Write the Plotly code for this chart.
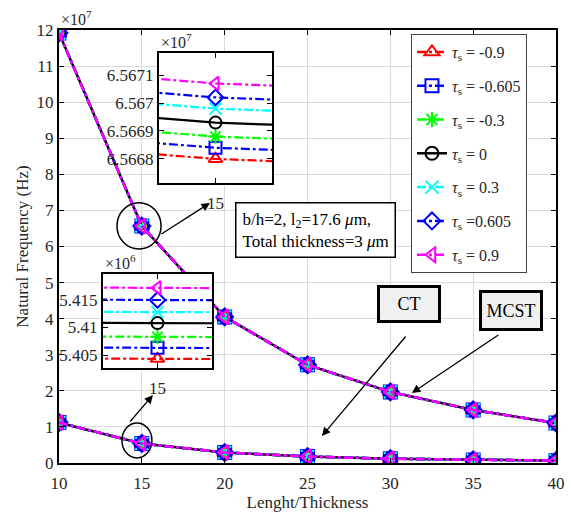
import plotly.graph_objects as go

# ---- data -------------------------------------------------------------
ratio = [10, 15, 20, 25, 30, 35, 40]
tau_values = ["-0.9", "-0.605", "-0.3", "0", "0.3", "0.605", "0.9"]
tau_text = ["= -0.9", "= -0.605", "= -0.3", "= 0", "= 0.3", "=0.605", "= 0.9"]

# natural frequency (Hz), modified couple stress theory
mcst_m090 = [1.19170e8, 6.56680e7, 4.04870e7, 2.72030e7, 1.96980e7, 1.46980e7, 1.10980e7]
mcst_m060 = [1.19175e8, 6.56684e7, 4.04880e7, 2.72040e7, 1.96990e7, 1.46990e7, 1.10990e7]
mcst_m030 = [1.19180e8, 6.56688e7, 4.04890e7, 2.72050e7, 1.97000e7, 1.47000e7, 1.11000e7]
mcst_000 = [1.19185e8, 6.56693e7, 4.04900e7, 2.72060e7, 1.97010e7, 1.47010e7, 1.11010e7]
mcst_p030 = [1.19190e8, 6.56698e7, 4.04910e7, 2.72070e7, 1.97020e7, 1.47020e7, 1.11020e7]
mcst_p060 = [1.19195e8, 6.56702e7, 4.04920e7, 2.72080e7, 1.97030e7, 1.47030e7, 1.11030e7]
mcst_p090 = [1.19200e8, 6.56707e7, 4.04930e7, 2.72090e7, 1.97040e7, 1.47040e7, 1.11040e7]

# natural frequency (Hz), classical theory
ct_m090 = [1.11960e7, 5.40430e6, 2.89800e6, 1.79800e6, 1.19800e6, 8.49800e5, 6.49800e5]
ct_m060 = [1.11970e7, 5.40630e6, 2.89900e6, 1.79900e6, 1.19900e6, 8.49900e5, 6.49900e5]
ct_m030 = [1.11980e7, 5.40830e6, 2.90000e6, 1.80000e6, 1.20000e6, 8.50000e5, 6.50000e5]
ct_000 = [1.11990e7, 5.41080e6, 2.90100e6, 1.80100e6, 1.20100e6, 8.50100e5, 6.50100e5]
ct_p030 = [1.12000e7, 5.41280e6, 2.90200e6, 1.80200e6, 1.20200e6, 8.50200e5, 6.50200e5]
ct_p060 = [1.12010e7, 5.41500e6, 2.90300e6, 1.80300e6, 1.20300e6, 8.50300e5, 6.50300e5]
ct_p090 = [1.12020e7, 5.41720e6, 2.90400e6, 1.80400e6, 1.20400e6, 8.50400e5, 6.50400e5]

mcst_series = [mcst_m090, mcst_m060, mcst_m030, mcst_000, mcst_p030, mcst_p060, mcst_p090]
ct_series = [ct_m090, ct_m060, ct_m030, ct_000, ct_p030, ct_p060, ct_p090]

main_yticks = list(range(0, 13))
inset_top_ticks = [6.5668, 6.5669, 6.567, 6.5671]
inset_top_labels = ["6.5668", "6.5669", "6.567", "6.5671"]
inset_bot_ticks = [5.405, 5.41, 5.415]
inset_bot_labels = ["5.405", "5.41", "5.415"]

# ---- styles -----------------------------------------------------------
colors = ["#ff0000", "#0000ff", "#00ff00", "#000000", "#00ffff", "#0000ff", "#ff00ff"]
symbols = ["triangle-up-open", "square-open", "asterisk-open", "circle-open",
           "x-thin-open", "diamond-open", "triangle-left-open"]
dashes = ["dashdot", "dashdot", "dashdot", "solid", "dashdot", "dashdot", "dashdot"]

FONT = "Liberation Serif, Times New Roman, serif"
TICK_COLOR = "#262626"

fig = go.Figure()

for i in range(len(tau_values)):
    grp = "tau" + tau_values[i]
    name = "<i>τ</i><sub>s</sub> " + tau_text[i]
    line = dict(color=colors[i], width=2.5, dash=dashes[i])
    marker = dict(symbol=symbols[i], size=13, color=colors[i],
                  line=dict(color=colors[i], width=2))
    fig.add_trace(go.Scatter(x=ratio, y=mcst_series[i], mode="lines+markers",
                             name=name, legendgroup=grp, line=line, marker=marker,
                             xaxis="x", yaxis="y"))
    fig.add_trace(go.Scatter(x=ratio, y=ct_series[i], mode="lines+markers",
                             name=name, legendgroup=grp, showlegend=False,
                             line=line, marker=marker, xaxis="x", yaxis="y"))

# zoomed views around ratio = 15
for i in range(len(tau_values)):
    grp = "tau" + tau_values[i]
    line = dict(color=colors[i], width=2.2, dash=dashes[i], simplify=False)
    marker = dict(symbol=symbols[i], size=12, color=colors[i],
                  line=dict(color=colors[i], width=2))
    fig.add_trace(go.Scatter(x=ratio, y=mcst_series[i], mode="lines+markers",
                             legendgroup=grp, showlegend=False, line=line, marker=marker,
                             xaxis="x2", yaxis="y2"))
    fig.add_trace(go.Scatter(x=ratio, y=ct_series[i], mode="lines+markers",
                             legendgroup=grp, showlegend=False, line=line, marker=marker,
                             xaxis="x3", yaxis="y3"))

axis_common = dict(
    linecolor="black", linewidth=2, mirror="ticks", ticks="inside",
    ticklen=5, tickwidth=1, tickcolor="black", zeroline=False, automargin=False,
    tickfont=dict(family=FONT, size=17, color=TICK_COLOR),
)

fig.update_layout(
    width=571, height=512,
    margin=dict(l=59, r=15, t=30, b=49),
    paper_bgcolor="white", plot_bgcolor="white",
    font=dict(family=FONT, size=16, color="black"),
    xaxis=dict(axis_common, domain=[0, 1], range=[10, 40],
               tickvals=ratio, showgrid=True, gridcolor="#dadada", gridwidth=1,
               ticklabelstandoff=4,
               title=dict(text="Lenght/Thickness", font=dict(family=FONT, size=17, color=TICK_COLOR),
                          standoff=5)),
    yaxis=dict(axis_common, domain=[0, 1], range=[0, 1.2e8],
               tickvals=[v * 1e7 for v in main_yticks],
               ticktext=[str(v) for v in main_yticks],
               showgrid=True, gridcolor="#dadada", gridwidth=1,
               title=dict(text="Natural Frequency (Hz)",
                          font=dict(family=FONT, size=17, color=TICK_COLOR), standoff=4)),
    xaxis2=dict(axis_common, domain=[0.2012, 0.4286], anchor="y2",
                range=[15 - 1.5e-5, 15 + 1.5e-5], tickvals=[15], ticktext=["15"],
                showgrid=False, ticklabelstandoff=4),
    yaxis2=dict(axis_common, domain=[0.6467, 0.9469], anchor="x2",
                range=[65667140, 65671790],
                tickvals=[v * 1e7 for v in inset_top_ticks], ticktext=inset_top_labels,
                showgrid=False),
    xaxis3=dict(axis_common, domain=[0.0885, 0.3078], anchor="y3",
                range=[15 - 5e-5, 15 + 5e-5], tickvals=[15], ticktext=["15"],
                showgrid=False, ticklabelstandoff=4),
    yaxis3=dict(axis_common, domain=[0.2194, 0.4365], anchor="x3",
                range=[5402640, 5419730],
                tickvals=[v * 1e6 for v in inset_bot_ticks], ticktext=inset_bot_labels,
                showgrid=False),
    legend=dict(x=0.7082, y=0.9908, xanchor="left", yanchor="top",
                bgcolor="white", bordercolor="#444", borderwidth=1,
                font=dict(family=FONT, size=16, color=TICK_COLOR),
                traceorder="grouped", tracegroupgap=10),
    showlegend=True,
)

ann = []
# exponent labels
ann.append(dict(text="×10<sup>7</sup>", xref="paper", yref="paper", x=0, y=1,
                xanchor="left", yanchor="bottom", showarrow=False,
                font=dict(family=FONT, size=16, color=TICK_COLOR)))
ann.append(dict(text="×10<sup>7</sup>", xref="x2 domain", yref="y2 domain", x=0, y=1,
                xanchor="left", yanchor="bottom", showarrow=False,
                font=dict(family=FONT, size=16, color=TICK_COLOR)))
ann.append(dict(text="×10<sup>6</sup>", xref="x3 domain", yref="y3 domain", x=0, y=1,
                xanchor="left", yanchor="bottom", showarrow=False,
                font=dict(family=FONT, size=16, color=TICK_COLOR)))

# parameter box
ann.append(dict(text="b/h=2, l<sub>2</sub>=17.6 <i>μ</i>m,<br>Total thickness=3 <i>μ</i>m",
                x=25.51, y=6.444e7, xref="x", yref="y", showarrow=False,
                xanchor="center", yanchor="middle", align="left",
                bgcolor="white", bordercolor="black", borderwidth=1.5, borderpad=6,
                font=dict(family=FONT, size=17, color="black")))
# theory labels
ann.append(dict(text="CT", x=31.15, y=4.393e7, xref="x", yref="y", showarrow=False,
                xanchor="center", yanchor="middle", width=56, height=30,
                bgcolor="#f0f0f0", bordercolor="black", borderwidth=3, borderpad=1,
                font=dict(family=FONT, size=18, color="black")))
ann.append(dict(text="MCST", x=37.3, y=4.24e7, xref="x", yref="y", showarrow=False,
                xanchor="center", yanchor="middle", width=56, height=33,
                bgcolor="#f0f0f0", bordercolor="black", borderwidth=3, borderpad=1,
                font=dict(family=FONT, size=18, color="black")))

# arrows
arrow_style = dict(showarrow=True, arrowhead=2, arrowsize=1.3, arrowwidth=1.3,
                   arrowcolor="black", text="", xref="x", yref="y")
ann.append(dict(arrow_style, x=19.11, y=7.206e7, ax=-50, ay=32))
ann.append(dict(arrow_style, x=15.67, y=1.885e7, ax=-24, ay=28))
ann.append(dict(arrow_style, x=25.87, y=0.748e7, ax=85, ay=-101))
ann.append(dict(arrow_style, x=31.30, y=1.94e7, ax=88, ay=-59))
fig.update_layout(annotations=ann)

# ellipses around the zoomed points
fig.add_shape(type="circle", xref="x", yref="y", x0=13.50, x1=16.16, y0=5.93e7, y1=7.21e7,
              line=dict(color="black", width=1.5))
fig.add_shape(type="circle", xref="x", yref="y", x0=13.80, x1=15.61, y0=0.139e7, y1=1.109e7,
              line=dict(color="black", width=1.5))

fig.write_html("out.html")
